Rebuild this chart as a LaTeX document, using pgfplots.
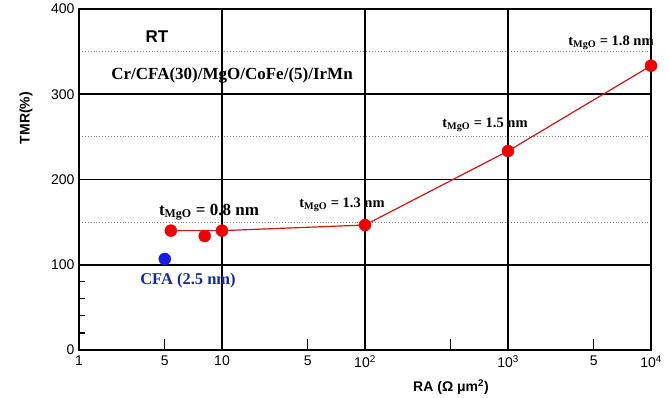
\documentclass[border=0pt]{standalone}
\usepackage{fontspec}
\setmainfont{Liberation Sans}
\newfontfamily\tnr{Liberation Serif}
\usepackage{pgfplots}
\pgfplotsset{compat=1.18}
\definecolor{ptred}{RGB}{240,0,0}
\definecolor{lnred}{RGB}{210,20,20}
\definecolor{ptblue}{RGB}{20,30,230}
\definecolor{txblue}{RGB}{20,40,170}
\begin{document}
\begin{tikzpicture}[x=1pt,y=1pt]
\path[use as bounding box] (0,0) rectangle (669,398);
\begin{axis}[
  at={(79pt,48pt)}, anchor=south west,
  scale only axis, width=572pt, height=341pt,
  xmode=log, xmin=1, xmax=10000, ymin=0, ymax=400,
  axis line style={line width=1.4pt},
  axis on top,
  xtick={1,10,100,1000,10000},
  xticklabels={1,10,10\textsuperscript{2},10\textsuperscript{3},10\textsuperscript{4}},
  extra x ticks={3.981,39.81,398.1,3981},
  extra x tick labels={5,5,{},5},
  extra x tick style={major tick length=11pt},
  ytick={0,100,200,300,400},
  extra y ticks={20,40,60,80},
  extra y tick labels={},
  xminorticks=false, yminorticks=false,
  tick align=inside, xtick pos=bottom, ytick pos=left,
  major tick length=6pt,
  tick style={black, line width=1.2pt},
  tick label style={font=\fontsize{14}{14}\selectfont, black},
  /pgf/number format/assume math mode=true,
  xticklabel style={yshift=-2pt},
  yticklabel style={xshift=-1pt},
  clip=false,
]
\draw[gray, dotted, line width=0.9pt] (rel axis cs:0,0.375) -- (rel axis cs:1,0.375);
\draw[gray, dotted, line width=0.9pt] (rel axis cs:0,0.625) -- (rel axis cs:1,0.625);
\draw[gray, dotted, line width=0.9pt] (rel axis cs:0,0.875) -- (rel axis cs:1,0.875);
\draw[black, line width=1.8pt] (rel axis cs:0,0.25) -- (rel axis cs:1,0.25);
\draw[black, line width=1.8pt] (rel axis cs:0,0.5) -- (rel axis cs:1,0.5);
\draw[black, line width=1.8pt] (rel axis cs:0,0.75) -- (rel axis cs:1,0.75);
\draw[black, line width=1.5pt] (rel axis cs:0.25,0) -- (rel axis cs:0.25,1);
\draw[black, line width=1.5pt] (rel axis cs:0.5,0) -- (rel axis cs:0.5,1);
\draw[black, line width=1.5pt] (rel axis cs:0.75,0) -- (rel axis cs:0.75,1);
\addplot[lnred, line width=1.2pt] coordinates {(4.39,140) (10,140) (100,146.6) (1000,233.4) (10000,333.5)};
\addplot[only marks, mark=*, mark size=6pt, ptred, mark options={draw=ptred, fill=ptred}] coordinates {(4.39,140) (7.57,133.7) (10,140) (100,146.6) (1000,233.4) (10000,333.5)};
\addplot[only marks, mark=*, mark size=6pt, ptblue, mark options={draw=ptblue, fill=ptblue}] coordinates {(3.98,106.8)};
\end{axis}
\node[font=\fontsize{17}{17}\selectfont\bfseries] at (157,361) {RT};
\node[font=\fontsize{17}{17}\selectfont\tnr\bfseries] at (232,323) {Cr/CFA(30)/MgO/CoFe/(5)/IrMn};
\node[font=\fontsize{14.5}{14.5}\selectfont\tnr\bfseries] at (611,355) {t\textsubscript{MgO} = 1.8 nm};
\node[font=\fontsize{14.5}{14.5}\selectfont\tnr\bfseries] at (485,273) {t\textsubscript{MgO} = 1.5 nm};
\node[font=\fontsize{14.5}{14.5}\selectfont\tnr\bfseries] at (342,193) {t\textsubscript{MgO} = 1.3 nm};
\node[font=\fontsize{17}{17}\selectfont\tnr\bfseries] at (209,186) {t\textsubscript{MgO} = 0.8 nm};
\node[font=\fontsize{16.5}{16.5}\selectfont\tnr\bfseries, text=txblue] at (188,117) {CFA (2.5 nm)};
\node[font=\fontsize{14}{14}\selectfont\bfseries, rotate=90] at (26,280) {TMR(\%)};
\node[font=\fontsize{14}{14}\selectfont\bfseries] at (451,11) {RA (Ω μm\textsuperscript{2})};
\end{tikzpicture}
\end{document}
